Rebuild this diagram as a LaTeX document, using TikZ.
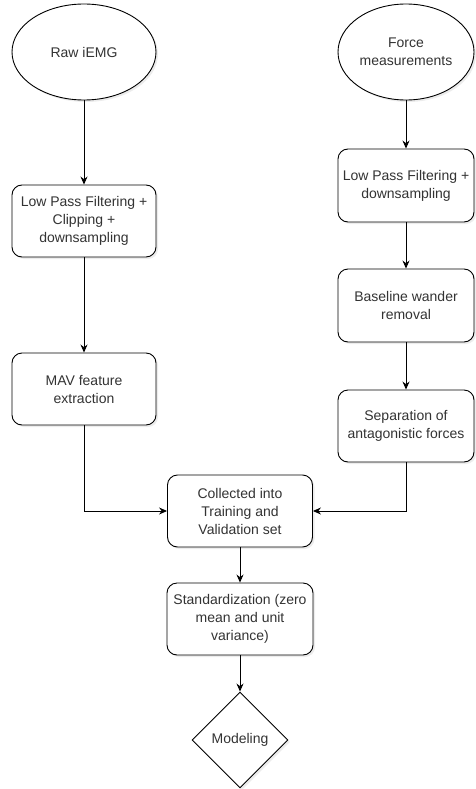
\documentclass[tikz,border=0pt]{standalone}
\usepackage{fontspec}
\setmainfont{Liberation Sans}
\usepackage{tikz}
\usetikzlibrary{shapes.geometric,arrows.meta,shadows}

\begin{document}
\begin{tikzpicture}[x=1pt, y=-1pt,
        every node/.style={font=\fontsize{14}{18}\selectfont, text=black!80, align=center},
        shade/.style={drop shadow={opacity=0.15, shadow xshift=2pt, shadow yshift=-2pt}},
        source/.style={ellipse, draw, line width=0.9pt, fill=white, shade, inner sep=0pt},
        stepbox/.style={rectangle, rounded corners=10pt, draw, line width=0.9pt, fill=white, shade, minimum width=144pt, minimum height=72pt, inner sep=2pt},
        final/.style={diamond, aspect=1, draw, line width=0.9pt, fill=white, shade, minimum width=96pt, minimum height=96pt, inner sep=0pt},
        flow/.style={draw, line width=0.9pt, -{Stealth[length=8pt, width=7pt]}}]
                \useasboundingbox (0,0) rectangle (475,789);

                \node[source, minimum width=144pt, minimum height=96pt] (raw) at (84,52) {Raw iEMG};
                \node[source, minimum width=136pt, minimum height=96pt] (force) at (406,52) {Force\\measurements};

                \node[stepbox] (lpfL) at (84,221) {Low Pass Filtering +\\Clipping +\\downsampling};
                \node[stepbox] (mav) at (84,389) {MAV feature\\extraction};

                \node[stepbox, minimum width=136pt, minimum height=73pt] (lpfR) at (406,185.5) {Low Pass Filtering +\\downsampling};
                \node[stepbox, minimum width=136pt, minimum height=73pt] (base) at (406,305.5) {Baseline wander\\removal};
                \node[stepbox, minimum width=136pt] (sep) at (406,426) {Separation of\\antagonistic forces};

                \node[stepbox, minimum width=145pt] (collect) at (240,511) {Collected into\\Training and\\Validation set};
                \node[stepbox, minimum width=146pt] (std) at (240,619) {Standardization (zero\\mean and unit\\variance)};
                \node[final] (model) at (240,740) {Modeling};

                \draw[flow] (raw) -- (lpfL);
                \draw[flow] (lpfL) -- (mav);
                \draw[flow] (mav.south) |- (collect.west);

                \draw[flow] (force) -- (lpfR);
                \draw[flow] (lpfR) -- (base);
                \draw[flow] (base) -- (sep);
                \draw[flow] (sep.south) |- (collect.east);

                \draw[flow] (collect) -- (std);
                \draw[flow] (std) -- (model);
            \end{tikzpicture}
\end{document}
